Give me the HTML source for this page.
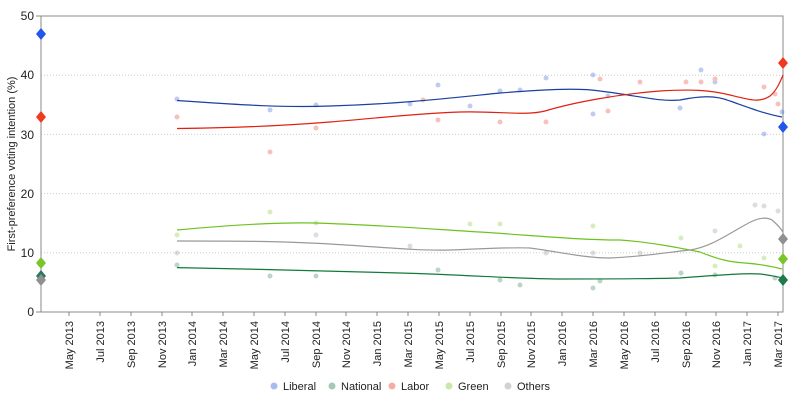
<!DOCTYPE html>
<html><head><meta charset="utf-8"><style>body{margin:0;background:#fff}svg{display:block;font-family:"Liberation Sans",sans-serif}</style></head><body>
<svg width="800" height="400" viewBox="0 0 800 400">
<g stroke="#ccc" stroke-dasharray="1,2" stroke-width="1">
<line x1="41" x2="783" y1="75.2" y2="75.2"/><line x1="41" x2="783" y1="134.4" y2="134.4"/><line x1="41" x2="783" y1="193.6" y2="193.6"/><line x1="41" x2="783" y1="252.8" y2="252.8"/></g>
<rect x="41" y="16" width="742" height="296" fill="none" stroke="#888"/>
<g font-size="12" fill="#222" text-anchor="end">
<text x="34" y="20">50</text><text x="34" y="79">40</text><text x="34" y="139">30</text><text x="34" y="198">20</text><text x="34" y="257">10</text><text x="34" y="316">0</text></g>
<text transform="translate(15,164) rotate(-90)" font-size="11" text-anchor="middle" fill="#222">First-preference voting intention (%)</text>
<g stroke="#888">
<line x1="36" x2="41" y1="16" y2="16"/><line x1="36" x2="41" y1="312" y2="312"/>
</g>
<g font-size="11" fill="#222" text-anchor="end" id="xl">
<g transform="translate(73,321) rotate(-90)"><text>May 2013</text></g>
<g transform="translate(104,321) rotate(-90)"><text>Jul 2013</text></g>
<g transform="translate(135,321) rotate(-90)"><text>Sep 2013</text></g>
<g transform="translate(166,321) rotate(-90)"><text>Nov 2013</text></g>
<g transform="translate(196,321) rotate(-90)"><text>Jan 2014</text></g>
<g transform="translate(227,321) rotate(-90)"><text>Mar 2014</text></g>
<g transform="translate(258,321) rotate(-90)"><text>May 2014</text></g>
<g transform="translate(289,321) rotate(-90)"><text>Jul 2014</text></g>
<g transform="translate(320,321) rotate(-90)"><text>Sep 2014</text></g>
<g transform="translate(350,321) rotate(-90)"><text>Nov 2014</text></g>
<g transform="translate(381,321) rotate(-90)"><text>Jan 2015</text></g>
<g transform="translate(412,321) rotate(-90)"><text>Mar 2015</text></g>
<g transform="translate(443,321) rotate(-90)"><text>May 2015</text></g>
<g transform="translate(474,321) rotate(-90)"><text>Jul 2015</text></g>
<g transform="translate(505,321) rotate(-90)"><text>Sep 2015</text></g>
<g transform="translate(535,321) rotate(-90)"><text>Nov 2015</text></g>
<g transform="translate(566,321) rotate(-90)"><text>Jan 2016</text></g>
<g transform="translate(597,321) rotate(-90)"><text>Mar 2016</text></g>
<g transform="translate(628,321) rotate(-90)"><text>May 2016</text></g>
<g transform="translate(659,321) rotate(-90)"><text>Jul 2016</text></g>
<g transform="translate(690,321) rotate(-90)"><text>Sep 2016</text></g>
<g transform="translate(720,321) rotate(-90)"><text>Nov 2016</text></g>
<g transform="translate(751,321) rotate(-90)"><text>Jan 2017</text></g>
<g transform="translate(782,321) rotate(-90)"><text>Mar 2017</text></g>
</g>
<g stroke="#888">
<line x1="69" x2="69" y1="312" y2="316"/><line x1="100" x2="100" y1="312" y2="316"/><line x1="131" x2="131" y1="312" y2="316"/><line x1="162" x2="162" y1="312" y2="316"/><line x1="192" x2="192" y1="312" y2="316"/><line x1="223" x2="223" y1="312" y2="316"/><line x1="254" x2="254" y1="312" y2="316"/><line x1="285" x2="285" y1="312" y2="316"/><line x1="316" x2="316" y1="312" y2="316"/><line x1="346" x2="346" y1="312" y2="316"/><line x1="377" x2="377" y1="312" y2="316"/><line x1="408" x2="408" y1="312" y2="316"/><line x1="439" x2="439" y1="312" y2="316"/><line x1="470" x2="470" y1="312" y2="316"/><line x1="501" x2="501" y1="312" y2="316"/><line x1="531" x2="531" y1="312" y2="316"/><line x1="562" x2="562" y1="312" y2="316"/><line x1="593" x2="593" y1="312" y2="316"/><line x1="624" x2="624" y1="312" y2="316"/><line x1="655" x2="655" y1="312" y2="316"/><line x1="686" x2="686" y1="312" y2="316"/><line x1="716" x2="716" y1="312" y2="316"/><line x1="747" x2="747" y1="312" y2="316"/><line x1="778" x2="778" y1="312" y2="316"/>
</g>
<!-- scatter -->
<g opacity="0.3">
<g fill="#3355dd"><circle cx="177" cy="99" r="2.5"/><circle cx="270" cy="110" r="2.5"/><circle cx="316" cy="105" r="2.5"/><circle cx="410" cy="104" r="2.5"/><circle cx="438" cy="85" r="2.5"/><circle cx="470" cy="106" r="2.5"/><circle cx="500" cy="91" r="2.5"/><circle cx="520" cy="90" r="2.5"/><circle cx="546" cy="78" r="2.5"/><circle cx="593" cy="75" r="2.5"/><circle cx="593" cy="114" r="2.5"/><circle cx="608" cy="96" r="2.5"/><circle cx="680" cy="108" r="2.5"/><circle cx="701" cy="70" r="2.5"/><circle cx="715" cy="82" r="2.5"/><circle cx="764" cy="134" r="2.5"/><circle cx="782" cy="112" r="2.5"/></g>
<g fill="#e8331f"><circle cx="177" cy="117" r="2.5"/><circle cx="270" cy="152" r="2.5"/><circle cx="316" cy="128" r="2.5"/><circle cx="423" cy="100" r="2.5"/><circle cx="438" cy="120" r="2.5"/><circle cx="500" cy="122" r="2.5"/><circle cx="546" cy="122" r="2.5"/><circle cx="600" cy="79" r="2.5"/><circle cx="608" cy="111" r="2.5"/><circle cx="640" cy="82" r="2.5"/><circle cx="686" cy="82" r="2.5"/><circle cx="701" cy="82" r="2.5"/><circle cx="715" cy="79" r="2.5"/><circle cx="764" cy="87" r="2.5"/><circle cx="778" cy="104" r="2.5"/><circle cx="775" cy="94" r="2.5"/></g>
<g fill="#7ac52a"><circle cx="177" cy="235" r="2.5"/><circle cx="270" cy="212" r="2.5"/><circle cx="316" cy="223" r="2.5"/><circle cx="470" cy="224" r="2.5"/><circle cx="500" cy="224" r="2.5"/><circle cx="593" cy="226" r="2.5"/><circle cx="681" cy="238" r="2.5"/><circle cx="715" cy="266" r="2.5"/><circle cx="740" cy="246" r="2.5"/><circle cx="764" cy="258" r="2.5"/></g>
<g fill="#1e7a4a"><circle cx="177" cy="265" r="2.5"/><circle cx="270" cy="276" r="2.5"/><circle cx="316" cy="276" r="2.5"/><circle cx="438" cy="270" r="2.5"/><circle cx="500" cy="280" r="2.5"/><circle cx="520" cy="285" r="2.5"/><circle cx="593" cy="288" r="2.5"/><circle cx="600" cy="281" r="2.5"/><circle cx="681" cy="273" r="2.5"/><circle cx="715" cy="275" r="2.5"/><circle cx="775" cy="278" r="2.5"/></g>
<g fill="#909090"><circle cx="177" cy="253" r="2.5"/><circle cx="316" cy="235" r="2.5"/><circle cx="410" cy="246" r="2.5"/><circle cx="546" cy="253" r="2.5"/><circle cx="593" cy="253" r="2.5"/><circle cx="640" cy="253" r="2.5"/><circle cx="715" cy="231" r="2.5"/><circle cx="755" cy="205" r="2.5"/><circle cx="764" cy="206" r="2.5"/><circle cx="778" cy="211" r="2.5"/></g>
</g>
<!-- trend lines -->
<g fill="none" stroke-width="1.2">
<path stroke="#1a3fa0" d="M177,100.5 C230,104 280,108 330,106 C400,104 450,98 500,93 C550,89 580,88 600,91 C640,96 660,102 680,100 C700,96 715,95 730,101 C750,108 765,114 782,117"/>
<path stroke="#e02010" d="M177,128.5 C230,128 280,126 330,122 C380,118 420,113 460,112 C500,111 525,116 545,111 C575,102 620,94 660,91 C690,89 710,90 730,95 C750,100 760,103 770,96 C777,90 780,82 783,75"/>
<path stroke="#6cc31e" d="M177,230 C220,226 270,222 315,223 C380,225 430,229 480,232 C540,236 580,240 620,240 C650,242 680,248 700,252 C720,260 730,262 745,263 C760,264 770,266 782,269"/>
<path stroke="#999" d="M177,241 C230,241 280,241 330,244 C380,247 420,251 450,250 C480,249 510,247 530,248 C560,252 585,258 610,258 C640,257 670,252 690,250 C710,247 725,236 745,225 C755,219 765,216 772,220 C778,225 781,229 783,232"/>
<path stroke="#117a3a" d="M177,267.6 C250,269 330,271 400,273 C470,275 520,279 560,279 C600,279 640,279 680,278 C720,275 745,273 760,274 C770,275 778,277 783,278"/>
</g>
<!-- diamonds -->
<g>
<path fill="#2255ee" d="M41,28l5,6-5,6-5-6z"/>
<path fill="#f03a20" d="M41,111l5,6-5,6-5-6z"/>
<path fill="#7ac52a" d="M41,257l5,6-5,6-5-6z"/>
<path fill="#2a7a5a" d="M41,270l5,6-5,6-5-6z"/>
<path fill="#909090" d="M41,274l5,6-5,6-5-6z"/>
<path fill="#f03a20" d="M783,57l5,6-5,6-5-6z"/>
<path fill="#2255ee" d="M783,121l5,6-5,6-5-6z"/>
<path fill="#909090" d="M783,233l5,6-5,6-5-6z"/>
<path fill="#7ac52a" d="M783,253l5,6-5,6-5-6z"/>
<path fill="#1e7a4a" d="M783,274l5,6-5,6-5-6z"/>
</g>
<!-- legend -->
<g font-size="11" fill="#222">
<circle cx="274" cy="386" r="3" fill="#3355dd" opacity="0.4" stroke="#3355dd"/><text x="283" y="390">Liberal</text>
<circle cx="332" cy="386" r="3" fill="#1e7a4a" opacity="0.4" stroke="#1e7a4a"/><text x="341" y="390">National</text>
<circle cx="392" cy="386" r="3" fill="#e8331f" opacity="0.4" stroke="#e8331f"/><text x="401" y="390">Labor</text>
<circle cx="449" cy="386" r="3" fill="#7ac52a" opacity="0.4" stroke="#7ac52a"/><text x="458" y="390">Green</text>
<circle cx="508" cy="386" r="3" fill="#909090" opacity="0.4" stroke="#909090"/><text x="517" y="390">Others</text>
</g>
</svg>
</body></html>
